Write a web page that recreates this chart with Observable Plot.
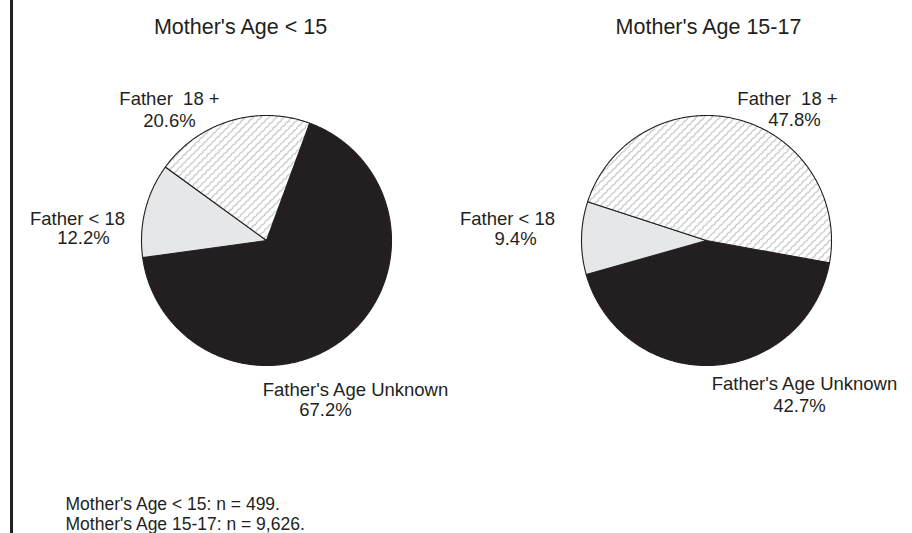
<!DOCTYPE html>
<html><head><meta charset="utf-8">
<script src="https://cdn.jsdelivr.net/npm/d3@7"></script>
<script src="https://cdn.jsdelivr.net/npm/@observablehq/plot@0.6"></script>
<style>
html,body{margin:0;padding:0;background:#fff;}
#wrap{position:relative;width:912px;height:533px;overflow:hidden;}
#vline{position:absolute;left:10px;top:0;width:2.5px;height:533px;background:#231f20;}
#wrap svg text{white-space:pre;}
</style></head><body><div id="wrap"><div id="vline"></div></div>
<script>
// ---------- data ----------
const pieTitles = ["Mother's Age < 15", "Mother's Age 15-17"];
const categories = ["Father's Age Unknown", "Father < 18", "Father  18 +"];
const shareUnder15 = [67.2, 12.2, 20.6];
const share15to17 = [42.7, 9.4, 47.8];
const sampleSizes = [499, 9626];

// ---------- layout / style (pixels) ----------
const W = 912, H = 533, R = 125;
const centersPx = [[266, 240], [706, 240]];
const startDeg = [20.2, 100.3];             // clockwise from 12 o'clock
const fills = ["#231f20", "#e6e7e8", "url(#hatch)"];
const ink = "#231f20";
const font = "Liberation Sans, Arial, Helvetica, sans-serif";
// label offsets from pie centre: [name dx, name baseline dy, pct dx, pct baseline dy]
const labelOffsets = [
  [[89, 155, 59, 175], [-189, -16, -183, 3], [-97, -136, -97, -114]],
  [[98, 149, 93, 171], [-199, -16, -191, 4], [81, -136, 88, -115]]
];
const titleOffsets = [[-26, -207], [2, -207]];
const footX = 65, footBaselines = [509, 529];
const labelFs = 18.5, titleFs = 21.5, footFs = 17.5;

// unit conversions (1 unit = pie radius)
const ux = px => (px - centersPx[0][0]) / R;
const uy = py => (centersPx[0][1] - py) / R;

const series = [shareUnder15, share15to17];

// slice polygons computed from the data
const slicePts = [];
series.forEach((vals, p) => {
  const total = d3.sum(vals);
  const cx = ux(centersPx[p][0]), cy = uy(centersPx[p][1]);
  let a = startDeg[p] * Math.PI / 180;
  vals.forEach((v, k) => {
    const a1 = a + v / total * 2 * Math.PI;
    const id = p + "-" + k;
    slicePts.push({id, k, x: cx, y: cy});
    const n = Math.max(2, Math.ceil((a1 - a) / (Math.PI / 360)));
    for (let i = 0; i <= n; i++) {
      const t = a + (a1 - a) * i / n;
      slicePts.push({id, k, x: cx + Math.sin(t), y: cy + Math.cos(t)});
    }
    slicePts.push({id, k, x: cx, y: cy});
    a = a1;
  });
});

const fmtPct = d3.format(".1f");
const labels = [];
series.forEach((vals, p) => {
  vals.forEach((v, k) => {
    const [ndx, ndy, pdx, pdy] = labelOffsets[p][k];
    const [cxp, cyp] = centersPx[p];
    labels.push({x: ux(cxp + ndx), y: uy(cyp + ndy - 0.71 * labelFs), text: categories[k].replace(/  /g, " \u00a0")});
    labels.push({x: ux(cxp + pdx), y: uy(cyp + pdy - 0.71 * labelFs), text: fmtPct(v) + "%"});
  });
});
const titles = pieTitles.map((t, p) => ({
  x: ux(centersPx[p][0] + titleOffsets[p][0]),
  y: uy(centersPx[p][1] + titleOffsets[p][1] - 0.71 * titleFs),
  text: t
}));
const foot = pieTitles.map((t, p) => ({
  x: ux(footX),
  y: uy(footBaselines[p] - 0.71 * footFs),
  text: `${t}: n = ${d3.format(",")(sampleSizes[p])}.`
}));

const marks = categories.map((c, k) =>
  Plot.line(slicePts.filter(d => d.k === k), {
    x: "x", y: "y", z: "id", fill: fills[k], stroke: ink, strokeWidth: 1.1, strokeLinejoin: "round"
  })
);

const chart = Plot.plot({
  width: W, height: H,
  margin: 0,
  x: {domain: [ux(0), ux(W)], range: [0, W], axis: null},
  y: {domain: [uy(H), uy(0)], range: [H, 0], axis: null},
  style: {background: "transparent", fontFamily: font, color: ink},
  marks: [
    ...marks,
    Plot.text(labels, {x: "x", y: "y", text: "text", fontSize: labelFs, fill: ink, lineAnchor: "top", textAnchor: "middle"}),
    Plot.text(titles, {x: "x", y: "y", text: "text", fontSize: titleFs, fill: ink, lineAnchor: "top", textAnchor: "middle"}),
    Plot.text(foot, {x: "x", y: "y", text: "text", fontSize: footFs, fill: ink, lineAnchor: "top", textAnchor: "start"})
  ]
});

const svg = d3.select(chart);
const defs = svg.insert("defs", ":first-child");
const pat = defs.append("pattern").attr("id", "hatch")
  .attr("patternUnits", "userSpaceOnUse")
  .attr("width", 5.5).attr("height", 6)
  .attr("patternTransform", "rotate(45)");
pat.append("rect").attr("width", 5.5).attr("height", 6).attr("fill", "#fff");
pat.append("path").attr("d", "M2.75,0 Q3.5,1.5 2.75,3 Q2,4.5 2.75,6")
  .attr("fill", "none").attr("stroke", "#777").attr("stroke-width", 0.6);

document.getElementById("wrap").appendChild(chart);
</script>
</body></html>
